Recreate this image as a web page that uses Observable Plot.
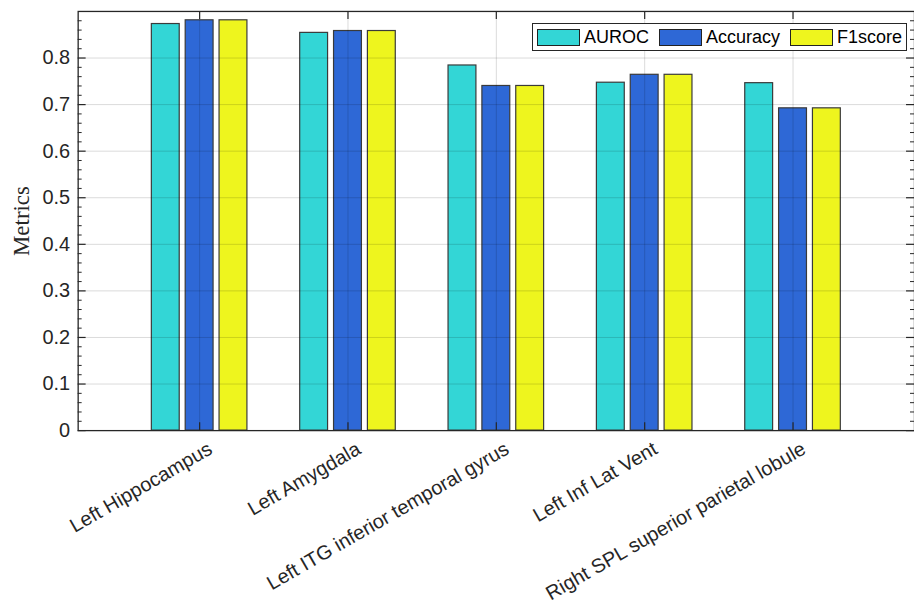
<!DOCTYPE html>
<html><head><meta charset="utf-8">
<script src="https://cdn.jsdelivr.net/npm/d3@7"></script>
<script src="https://cdn.jsdelivr.net/npm/@observablehq/plot@0.6"></script>
<style>
html,body{margin:0;padding:0;background:#fff;overflow:hidden;}
#wrap{position:relative;width:914px;height:608px;overflow:hidden;}
#legend{position:absolute;left:532px;top:23px;height:28px;box-sizing:border-box;border:1px solid #262626;background:#fff;display:flex;align-items:center;padding:0 4px 0 4px;font-family:"Liberation Sans",Arial,sans-serif;font-size:18px;color:#000;}
.item{display:flex;align-items:center;margin-right:10px}
.item:last-child{margin-right:0}
.sw{width:43px;height:17px;box-sizing:border-box;border:1px solid #222;margin-right:4px}
</style></head><body><div id="wrap"><div id="legend"></div></div>
<script>
const regions = ["Left Hippocampus", "Left Amygdala", "Left ITG inferior temporal gyrus", "Left Inf Lat Vent", "Right SPL superior parietal lobule"];
const metrics = ["AUROC", "Accuracy", "F1score"];
const auroc = [0.873, 0.854, 0.784, 0.747, 0.746];
const accuracy = [0.881, 0.858, 0.740, 0.764, 0.692];
const f1score = [0.881, 0.858, 0.740, 0.764, 0.692];
const colors = ["#33d6d6", "#2e68d6", "#eef51e"];
const yTicks = [0, 0.1, 0.2, 0.3, 0.4, 0.5, 0.6, 0.7, 0.8];
const yTickLabels = ["0", "0.1", "0.2", "0.3", "0.4", "0.5", "0.6", "0.7", "0.8"];
const yLabel = "Metrics";

const series = [auroc, accuracy, f1score];
const data = regions.flatMap((r, i) => metrics.map((m, j) => ({region: r, metric: m, value: series[j][i]})));
const yMinor = d3.range(0, 0.9001, 0.02).filter(v => Math.abs(Math.round(v * 10) - v * 10) > 1e-6);

const W = 918, H = 608, mL = 78, mR = 0, mT = 11, mB = 176;
const frameW = W - mL - mR, frameH = H - mT - mB;
const offsets = [-34, 0, 34];
const axisColor = "#262626";

const chart = Plot.plot({
  width: W, height: H,
  marginLeft: mL, marginRight: mR, marginTop: mT, marginBottom: mB,
  style: {fontFamily: "'Liberation Sans', Arial, sans-serif", fontSize: "20px", background: "white", overflow: "visible"},
  x: {domain: regions, paddingInner: 0.81333, paddingOuter: 0.70667, axis: null},
  y: {domain: [0, 0.9], axis: null},
  color: {domain: metrics, range: colors},
  marks: [
    ...metrics.map((m, j) => Plot.barY(data.filter(d => d.metric === m), {
      x: "region", y: "value", fill: "metric", stroke: "#3a3a3a", strokeWidth: 1.2, dx: offsets[j]
    })),
    Plot.ruleY(yTicks.slice(1), {y: d => d, stroke: "#000", strokeOpacity: 0.15, strokeWidth: 1}),
    Plot.ruleX(regions, {x: d => d, stroke: "#000", strokeOpacity: 0.15, strokeWidth: 1}),
    Plot.frame({stroke: axisColor, strokeWidth: 1.3}),
    Plot.tickY(yTicks, {y: d => d, insetRight: frameW - 8, stroke: axisColor, strokeWidth: 1.2}),
    Plot.tickY(yMinor, {y: d => d, insetRight: frameW - 4, stroke: axisColor, strokeWidth: 1}),
    Plot.tickY(yTicks, {y: d => d, insetLeft: frameW - 8, stroke: axisColor, strokeWidth: 1.2}),
    Plot.tickY(yMinor, {y: d => d, insetLeft: frameW - 4, stroke: axisColor, strokeWidth: 1}),
    Plot.tickX(regions, {x: d => d, insetBottom: frameH - 8, stroke: axisColor, strokeWidth: 1.2}),
    Plot.tickX(regions, {x: d => d, insetTop: frameH - 8, stroke: axisColor, strokeWidth: 1.2}),
    Plot.text(yTicks, {y: d => d, text: (d, i) => yTickLabels[i], frameAnchor: "left", textAnchor: "end", dx: -8, fontSize: 20, fill: "#262626"}),
    Plot.text(regions, {x: d => d, text: d => d, frameAnchor: "bottom", rotate: -30, textAnchor: "end", lineAnchor: "top", dx: 7, dy: 10, fontSize: 20, fill: "#262626"}),
    Plot.text([yLabel], {text: d => d, frameAnchor: "left", rotate: -90, dx: -57, fontFamily: "'Liberation Serif', 'Times New Roman', serif", fontSize: 23, fill: "#262626", textAnchor: "middle", lineAnchor: "middle"})
  ]
});
document.getElementById("wrap").prepend(chart);

const legend = document.getElementById("legend");
metrics.forEach((m, j) => {
  const item = document.createElement("div");
  item.className = "item";
  const sw = document.createElement("div");
  sw.className = "sw";
  sw.style.background = colors[j];
  const t = document.createElement("span");
  t.textContent = m;
  item.append(sw, t);
  legend.append(item);
});
</script>
</body></html>
